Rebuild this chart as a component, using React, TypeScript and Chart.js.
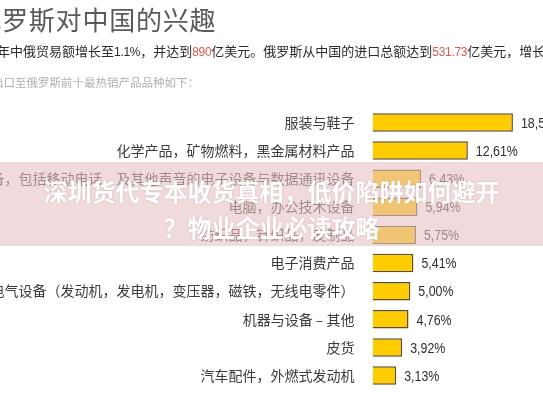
import React, { useEffect, useRef } from "react";
import { Chart, registerables } from "chart.js";

Chart.register(...registerables);

const categories: string[] = [
  "服装与鞋子",
  "化学产品，矿物燃料，黑金属材料产品",
  "电信设备，包括移动电话，及其他声音的电子设备与数据通讯设备",
  "电脑，办公技术设备",
  "纺织品，针织品，皮制品",
  "电子消费产品",
  "电气设备（发动机，发电机，变压器，磁铁，无线电零件）",
  "机器与设备 – 其他",
  "皮货",
  "汽车配件，外燃式发动机",
];

const shares: number[] = [18.57, 12.61, 6.43, 5.94, 5.75, 5.41, 5.0, 4.76, 3.92, 3.13];

const titleText = "俄罗斯对中国的兴趣";
const introParts: { text: string; num?: boolean; red?: boolean }[] = [
  { text: "年中俄贸易额增长至" },
  { text: "1.1%", num: true },
  { text: "，并达到" },
  { text: "890", num: true, red: true },
  { text: "亿美元。俄罗斯从中国的进口总额达到" },
  { text: "531.73", num: true, red: true },
  { text: "亿美元，增长3" },
];
const listIntro = "出口至俄罗斯前十最热销产品品种如下：";
const bannerLines: string[] = ["深圳货代专本收货真相，低价陷阱如何避开", "？物业企业必读攻略"];

const W = 543;
const H = 408;
const CJK = '"Noto Sans CJK SC", "Noto Sans", sans-serif';

const valueLabelPlugin = {
  id: "valueLabels",
  afterDatasetsDraw(chart: any) {
    const ctx = chart.ctx;
    const meta = chart.getDatasetMeta(0);
    const data = chart.data.datasets[0].data as number[];
    ctx.save();
    ctx.fillStyle = "#2e2e2e";
    ctx.font = '15.5px "Liberation Sans", Arial, sans-serif';
    ctx.textBaseline = "middle";
    ctx.textAlign = "left";
    meta.data.forEach((bar: any, i: number) => {
      const txt = data[i].toFixed(2).replace(".", ",") + "%";
      ctx.save();
      ctx.translate(bar.x + 8, bar.y + 1);
      ctx.scale(0.8, 1);
      ctx.fillText(txt, 0, 0);
      ctx.restore();
    });
    ctx.restore();
  },
};

export default function App() {
  const canvasRef = useRef<HTMLCanvasElement | null>(null);

  useEffect(() => {
    if (!canvasRef.current) return;
    const chart = new Chart(canvasRef.current, {
      type: "bar",
      data: {
        labels: categories,
        datasets: [
          {
            data: shares,
            backgroundColor: "#FFCC00",
            borderColor: "#5e4d26",
            borderWidth: 1.5,
            barPercentage: 0.655,
            categoryPercentage: 1,
          },
        ],
      },
      options: {
        indexAxis: "y",
        responsive: false,
        animation: false,
        devicePixelRatio: 1,
        layout: { padding: { top: 108.4, bottom: 17.4, left: 0, right: 0 } },
        plugins: {
          legend: { display: false },
          tooltip: { enabled: false },
          title: { display: false },
        },
        scales: {
          x: {
            display: false,
            min: 0,
            max: 22.55,
          },
          y: {
            grid: { display: false },
            border: { display: false },
            ticks: {
              color: "#3a3a3a",
              padding: 10,
              font: { family: CJK, size: 14 },
              autoSkip: false,
            },
            afterFit(scale: any) {
              scale.width = 372.5;
            },
          },
        },
      },
      plugins: [valueLabelPlugin],
    });
    return () => chart.destroy();
  }, []);

  return (
    <div
      style={{
        position: "fixed",
        left: 0,
        top: 0,
        width: W,
        height: H,
        overflow: "hidden",
        background: "#ffffff",
      }}
    >
      <canvas
        ref={canvasRef}
        width={W}
        height={H}
        style={{ position: "absolute", left: 0, top: 0, width: W, height: H }}
      />
      <div
        style={{
          position: "absolute",
          left: -24.8,
          top: 6,
          fontFamily: CJK,
          fontSize: 26,
          lineHeight: "26px",
          letterSpacing: "0.8px",
          color: "#5a5a5a",
          whiteSpace: "nowrap",
        }}
      >
        {titleText}
      </div>
      <div
        style={{
          position: "absolute",
          left: -3,
          top: 44,
          fontFamily: CJK,
          fontSize: 13,
          lineHeight: "14px",
          color: "#2a2a2a",
          whiteSpace: "nowrap",
        }}
      >
        {introParts.map((p, i) => (
          <span
            key={i}
            style={
              p.num
                ? {
                    color: p.red ? "#e0584a" : "#2a2a2a",
                    fontFamily: '"Liberation Sans", Arial, sans-serif',
                    fontSize: 12,
                    letterSpacing: "-0.3px",
                  }
                : undefined
            }
          >
            {p.text}
          </span>
        ))}
      </div>
      <div
        style={{
          position: "absolute",
          left: -8,
          top: 76,
          fontFamily: CJK,
          fontSize: 11.5,
          lineHeight: "13px",
          color: "#b0b0b0",
          whiteSpace: "nowrap",
        }}
      >
        {listIntro}
      </div>
      <div
        style={{
          position: "absolute",
          left: 0,
          top: 162,
          width: W,
          height: 84,
          background: "rgba(230,193,195,0.6)",
          boxSizing: "border-box",
          paddingTop: 10.5,
          textAlign: "center",
          fontFamily: CJK,
          fontWeight: 700,
          fontSize: 24,
          lineHeight: "36px",
          color: "#ffffff",
          textShadow: "0 0 2px rgba(120,60,60,0.25)",
        }}
      >
        {bannerLines.map((l, i) => (
          <div key={i}>{l}</div>
        ))}
      </div>
    </div>
  );
}
